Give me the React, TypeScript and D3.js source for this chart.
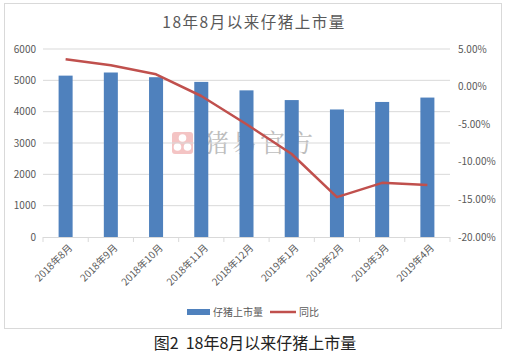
import React from "react";
import * as d3 from "d3";

const categories = ["2018年8月", "2018年9月", "2018年10月", "2018年11月", "2018年12月", "2019年1月", "2019年2月", "2019年3月", "2019年4月"];
const supply = [5150, 5250, 5100, 4950, 4680, 4370, 4070, 4310, 4450];
const yoy = [3.63, 2.83, 1.63, -1.25, -5.0, -8.96, -14.7, -12.8, -13.1];
const leftTicks = [0, 1000, 2000, 3000, 4000, 5000, 6000];
const rightTicks = [5, 0, -5, -10, -15, -20];

const W = 506, H = 355;
const FONT = "'Noto Sans CJK SC', 'Noto Sans', sans-serif";

export default function App() {
  const left = 43, right = 450, top = 49, bottom = 237;
  const x = d3.scaleBand<string>().domain(categories).range([left, right]).paddingInner(0).paddingOuter(0);
  const yL = d3.scaleLinear().domain([0, 6000]).range([bottom, top]);
  const yR = d3.scaleLinear().domain([-20, 5]).range([bottom, top]);
  const bw = x.bandwidth() * 0.31;
  const line = d3.line<number>()
    .x((_, i) => (x(categories[i]) as number) + x.bandwidth() / 2)
    .y((d) => yR(d));

  return (
    <svg width={W} height={H} style={{ position: "absolute", left: 0, top: 0 }} fontFamily={FONT}>
      <rect x={0} y={0} width={W} height={H} fill="#fff" />
      <rect x={4.5} y={3.5} width={497} height={325} fill="#fff" stroke="#d9d9d9" />
      <text x={254} y={28} textAnchor="middle" fontSize={15.5} letterSpacing={1.5} fill="#595959">18年8月以来仔猪上市量</text>
      {/* watermark */}
      <g>
        <rect x={172} y={132} width={21} height={22} rx={3} fill="#f4c4c4" />
        <circle cx={182.5} cy={138} r={3.8} fill="#fff" />
        <circle cx={177.5} cy={147} r={3.8} fill="#fff" />
        <circle cx={187.5} cy={147} r={3.8} fill="#fff" />
        <text x={204} y={152} fontSize={25} fill="#bdbdbd" letterSpacing={3} fontFamily="'Noto Serif CJK SC', 'Noto Sans CJK SC', serif">猪易官方</text>
      </g>
      {leftTicks.map((t) => (
        <g key={"l" + t}>
          {t > 0 && <line x1={left} x2={right} y1={yL(t)} y2={yL(t)} stroke="#d9d9d9" strokeWidth={1} />}
          <text x={36} y={yL(t)} dy="0.35em" textAnchor="end" fontSize={10} fill="#595959">{t}</text>
        </g>
      ))}
      {rightTicks.map((t) => (
        <text key={"r" + t} x={458} y={yR(t)} dy="0.35em" textAnchor="start" fontSize={10} fill="#595959">{t.toFixed(2) + "%"}</text>
      ))}
      {supply.map((v, i) => (
        <rect key={i} x={(x(categories[i]) as number) + x.bandwidth() / 2 - bw / 2} y={yL(v)} width={bw} height={bottom - yL(v)} fill="#4f81bd" />
      ))}
      <line x1={left} x2={right} y1={bottom + 0.5} y2={bottom + 0.5} stroke="#d9d9d9" />
      {d3.range(categories.length + 1).map((i) => {
        const xx = left + x.bandwidth() * i;
        return <line key={"t" + i} x1={xx} x2={xx} y1={bottom} y2={bottom + 5} stroke="#d9d9d9" />;
      })}
      <path d={line(yoy) || ""} fill="none" stroke="#c0504d" strokeWidth={2.5} strokeLinejoin="round" />
      {categories.map((c) => {
        const cx = (x(c) as number) + x.bandwidth() / 2 + 5;
        return (
          <text key={c} transform={`translate(${cx},${bottom + 9}) rotate(-45)`} textAnchor="end" dy="0.35em" fontSize={10} fill="#595959">{c}</text>
        );
      })}
      <g>
        <rect x={187} y={309} width={23} height={6} fill="#4f81bd" />
        <text x={213} y={312} dy="0.35em" fontSize={10} fill="#595959">仔猪上市量</text>
        <line x1={270} x2={296} y1={312} y2={312} stroke="#c0504d" strokeWidth={2.5} />
        <text x={299} y={312} dy="0.35em" fontSize={10} fill="#595959">同比</text>
      </g>
      <text x={255} y={349} textAnchor="middle" fontSize={16} fill="#222" style={{ whiteSpace: "pre" }}>{"图2  18年8月以来仔猪上市量"}</text>
    </svg>
  );
}
